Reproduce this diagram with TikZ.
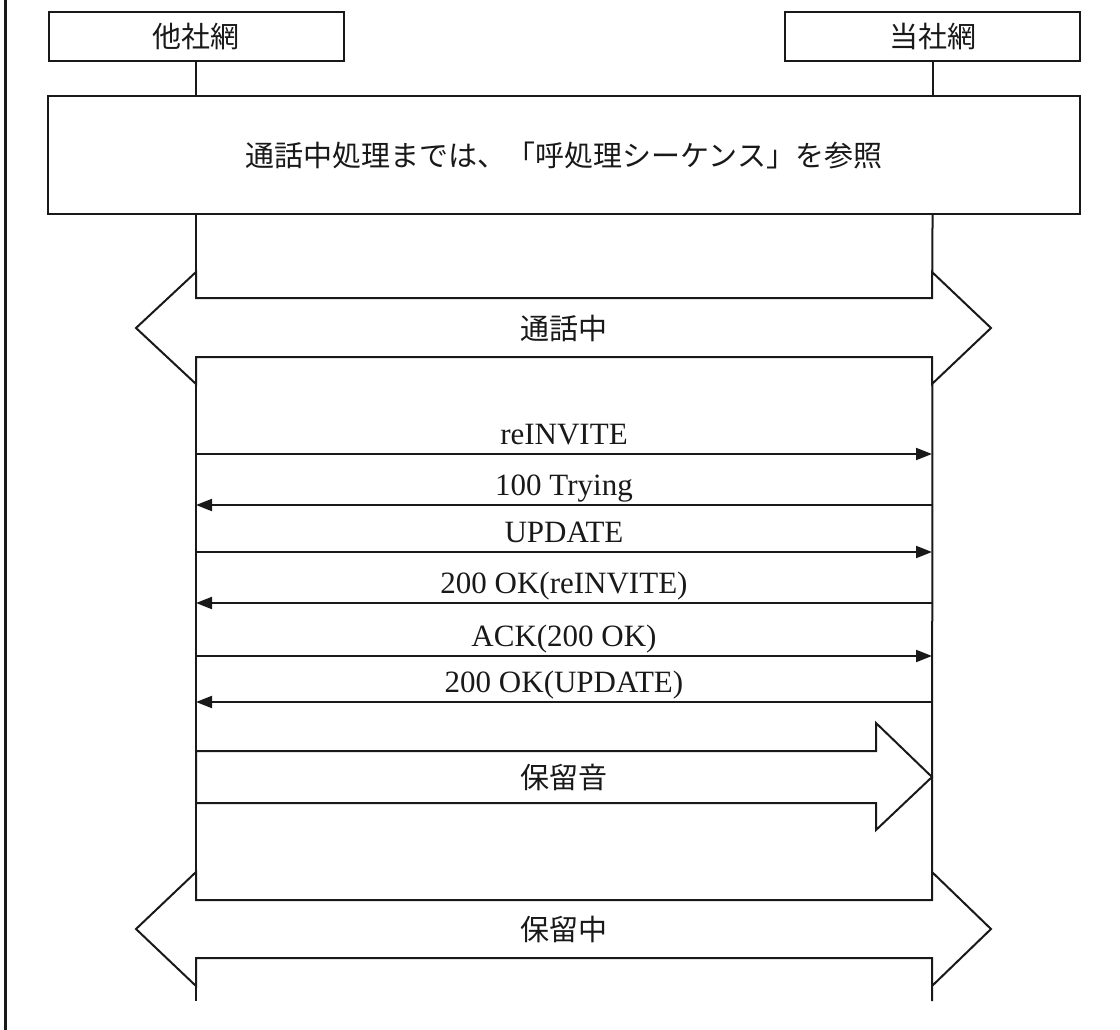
\documentclass[tikz,border=0pt]{standalone}
\usepackage{fontspec}
\setmainfont{Liberation Serif}
\newfontfamily\jp{Noto Sans CJK JP}
\usetikzlibrary{arrows.meta}
\begin{document}
\begin{tikzpicture}[x=1pt,y=-1pt,
  every node/.style={inner sep=0pt, text=black!90},
  ln/.style={line width=2pt, draw=black!90},
  hdr/.style={draw=black!90, line width=2pt, minimum width=295pt, minimum height=49pt, font=\jp\fontsize{29}{34}\selectfont},
  refbox/.style={draw=black!90, line width=2pt, minimum width=1032pt, minimum height=118pt, font=\jp\fontsize{29}{34}\selectfont},
  msg/.style={line width=2pt, draw=black!90, -{Triangle[length=16pt,width=12pt]}},
  lbl/.style={font=\fontsize{31}{34}\selectfont, anchor=base},
  jlbl/.style={font=\jp\fontsize{29}{34}\selectfont},
  block/.style={line width=2pt, draw=black!90, fill=white, line join=miter}]
\useasboundingbox (0,0) rectangle (1120,1030);
\draw[line width=3pt, black!90] (5,0) -- (5,1030);
% headers
\node[hdr] (A) at (196,36.5) {他社網};
\node[hdr] (B) at (932.5,36.5) {当社網};
\node[refbox] (ref) at (564,155) {通話中処理までは、「呼処理シーケンス」を参照};
% lifelines
\coordinate (Lend) at (196,1001);
\coordinate (Rend) at (932,1001);
\draw[ln] (A.south) -- (A.south |- ref.north);
\draw[ln] (B.south) -- (B.south |- ref.north);
\draw[ln] (A.south |- ref.south) -- (Lend);
\draw[ln] (B.south |- ref.south) -- (Rend);
% in call
\draw[block] (136,328) -- (196,272) -- (196,298) -- (932,298) -- (932,272) -- (991,328)
  -- (932,384) -- (932,357) -- (196,357) -- (196,384) -- cycle;
\node[jlbl] (talk) at (564,328) {通話中};
% messages
\foreach \yy/\n in {454/1,505/2,552/3,603/4,656/5,702/6} {
  \coordinate (l\n) at (196,\yy);
  \coordinate (r\n) at (932,\yy);
}
\draw[msg] (l1) -- (r1);
\node[lbl] (m1) at (564,444) {reINVITE};
\draw[msg] (r2) -- (l2);
\node[lbl] (m2) at (564,495) {100 Trying};
\draw[msg] (l3) -- (r3);
\node[lbl] (m3) at (564,542) {UPDATE};
\draw[msg] (r4) -- (l4);
\node[lbl] (m4) at (564,593) {200 OK(reINVITE)};
\draw[msg] (l5) -- (r5);
\node[lbl] (m5) at (564,646) {ACK(200 OK)};
\draw[msg] (r6) -- (l6);
\node[lbl] (m6) at (564,692) {200 OK(UPDATE)};
% hold tone
\draw[block] (196,751) -- (876,751) -- (876,723) -- (932,777) -- (876,830) -- (876,803) -- (196,803) -- cycle;
\node[jlbl] (tone) at (564,777) {保留音};
% on hold
\draw[block] (136,929) -- (196,872) -- (196,900) -- (932,900) -- (932,872) -- (991,929)
  -- (932,986) -- (932,958) -- (196,958) -- (196,986) -- cycle;
\node[jlbl] (hold) at (564,929) {保留中};
\end{tikzpicture}
\end{document}
